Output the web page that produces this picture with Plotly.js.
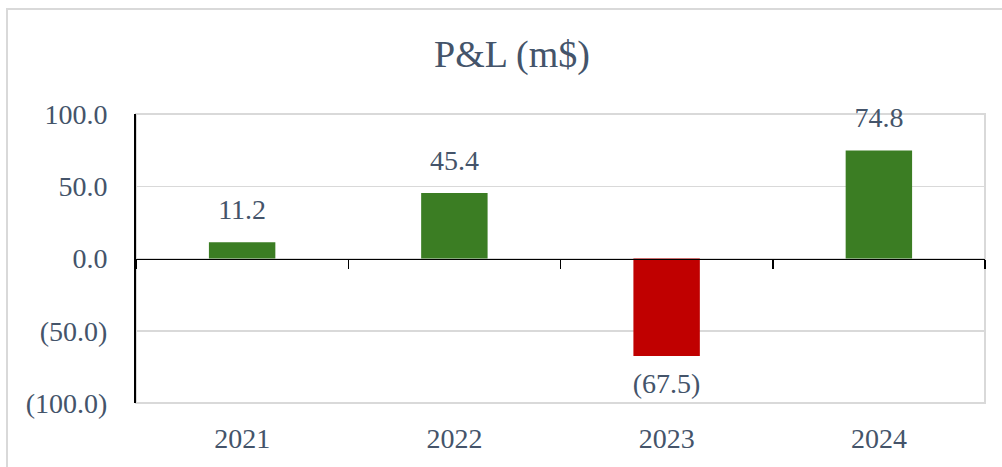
<!DOCTYPE html>
<html>
<head>
<meta charset="utf-8">
<script src="https://cdn.plot.ly/plotly-3.0.1.min.js"></script>
<style>
  html, body { margin: 0; padding: 0; background: #ffffff; overflow: hidden; }
  #wrap { position: relative; width: 1002px; height: 467px; }
  #chart { position: absolute; left: 0; top: 0; width: 1002px; height: 467px; }
  #frame { position: absolute; left: 6px; top: 8px; width: 1100px; height: 600px;
           border-left: 2px solid #d9d9d9; border-top: 2px solid #d9d9d9; pointer-events: none; }
</style>
</head>
<body>
<div id="wrap">
  <div id="chart"></div>
  <div id="frame"></div>
</div>
<script>
const years = ['2021', '2022', '2023', '2024'];
const pnl = [11.2, 45.4, -67.5, 74.8];
const yTickVals = [100, 50, 0, -50, -100];
const yTickText = ['100.0', '50.0', '0.0', '(50.0)', '(100.0)'];
const titleText = 'P&L (m$)';

const GREEN = '#3B7D23';
const RED = '#C00000';
const TXT = '#44546A';
const SERIF = 'Liberation Serif, Times New Roman, serif';

function fmt(v) {
  const s = Math.abs(v).toFixed(1);
  return v < 0 ? '(' + s + ')' : s;
}

const bars = {
  type: 'bar',
  x: years,
  y: pnl,
  xaxis: 'x',
  yaxis: 'y',
  marker: { color: pnl.map(v => v < 0 ? RED : GREEN) },
  hoverinfo: 'x+y',
  showlegend: false
};

const labelsTrace = {
  type: 'scatter',
  mode: 'markers+text',
  x: years,
  y: pnl,
  xaxis: 'x2',
  yaxis: 'y',
  text: pnl.map(fmt),
  textposition: pnl.map(v => v < 0 ? 'bottom center' : 'top center'),
  textfont: { family: SERIF, size: 28, color: TXT },
  marker: { opacity: 0, size: 24, color: '#ffffff' },
  cliponaxis: false,
  hoverinfo: 'skip',
  showlegend: false
};

const layout = {
  width: 1002, height: 467,
  margin: { l: 136, r: 17, t: 114, b: 64 },
  paper_bgcolor: '#ffffff',
  plot_bgcolor: '#ffffff',
  bargap: 0.687,
  title: {
    text: titleText,
    x: 0.511, xref: 'container', xanchor: 'center',
    y: 0.885, yref: 'container', yanchor: 'middle',
    font: { family: SERIF, size: 38, color: TXT }
  },
  xaxis: {
    type: 'category',
    categoryorder: 'array', categoryarray: years,
    range: [-0.5, 3.5],
    anchor: 'free', position: 0.5,
    showline: true, linecolor: '#000000', linewidth: 1.5,
    ticks: 'outside', tickson: 'boundaries', ticklen: 9, tickwidth: 1.5, tickcolor: '#000000',
    showticklabels: false, showgrid: false, zeroline: false, fixedrange: true
  },
  xaxis2: {
    type: 'category',
    categoryorder: 'array', categoryarray: years,
    range: [-0.5, 3.5],
    overlaying: 'x', anchor: 'y', side: 'bottom',
    showline: false, ticks: '', showgrid: false, zeroline: false,
    ticklabelstandoff: 16,
    tickfont: { family: SERIF, size: 28, color: TXT }, fixedrange: true
  },
  yaxis: {
    range: [-100, 100],
    tickvals: yTickVals, ticktext: yTickText,
    showline: true, linecolor: '#000000', linewidth: 2,
    showgrid: true, gridcolor: '#d9d9d9', gridwidth: 1.5,
    zeroline: false, ticks: '', ticklabelstandoff: 21,
    tickfont: { family: SERIF, size: 28, color: TXT }, fixedrange: true
  },
  shapes: [{
    type: 'rect', xref: 'paper', yref: 'paper', x0: 0, x1: 1, y0: 0, y1: 1,
    line: { color: '#d9d9d9', width: 2 }, layer: 'below'
  }]
};

Plotly.newPlot('chart', [bars, labelsTrace], layout, { displayModeBar: false, staticPlot: true });
</script>
</body>
</html>
